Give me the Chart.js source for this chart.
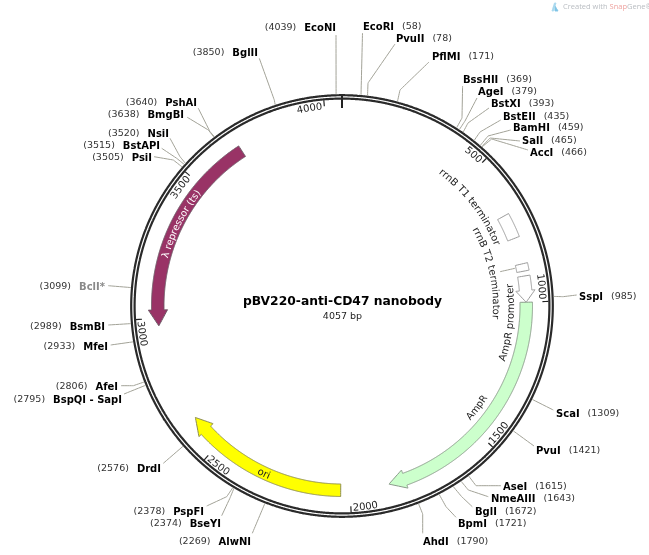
<!DOCTYPE html>
<html><head><meta charset="utf-8">
<style>html,body{margin:0;padding:0;background:#fff}canvas{display:block}</style>
<script src="https://cdn.jsdelivr.net/npm/chart.js@4/dist/chart.umd.min.js"></script>
</head><body><div style="width:649px;height:555px"><canvas id="c" width="649" height="555"></canvas></div>
<script>
// ---- data ----
const plasmidName = 'pBV220-anti-CD47 nanobody';
const plasmidLength = 4057;
const tickValues = [500,1000,1500,2000,2500,3000,3500,4000];
const siteNames = ['EcoRI','PvuII','PflMI','BssHII','AgeI','BstXI','BstEII','BamHI','SalI','AccI','SspI','ScaI','PvuI','AseI','NmeAIII','BglI','BpmI','AhdI','AlwNI','BseYI','PspFI','DrdI','BspQI - SapI','AfeI','MfeI','BsmBI','BclI*','PsiI','BstAPI','NsiI','BmgBI','PshAI','BglII','EcoNI'];
const sitePositions = [58,78,171,369,379,393,435,459,465,466,985,1309,1421,1615,1643,1672,1721,1790,2269,2374,2378,2576,2795,2806,2933,2989,3099,3505,3515,3520,3638,3640,3850,4039];
const arrowNames = ['λ repressor (ts)','AmpR','ori','AmpR promoter'];
const arrowTail = [3687,1001,2033,909];
const arrowHeadBase = [3029,1804,2565,960];
const arrowTip = [2973,1862,2623,1001];
const boxNames = ['rrnB T1 terminator','rrnB T2 terminator'];
const boxStart = [687,866];
const boxEnd = [773,892];
const promoterBoundary = 1070;

// ---- layout ----
const CX=342, CY=306;
const ringR=[210.8,207.4];
// [side, label x, label y, leader waypoints from the label towards the ring]
const siteLayout = [
['R',363,27,[[362.5,33]]],
['R',396,39,[[395,44],[368,83]]],
['R',432,57,[[429,62],[400,90]]],
['R',463,80,[[462.6,86],[462,118]]],
['R',478,92,[[477,98],[465,121]]],
['R',491,104,[[489,108],[468,123]]],
['R',503,117,[[500.7,120],[480,132]]],
['R',513,128,[[510.7,130],[488,136]]],
['R',522,141,[[520,141],[490,138]]],
['R',530,153,[[528,150],[491.7,139]]],
['R',579,297,[[576.7,295],[563,296.7]]],
['R',556,414,[[553.3,410]]],
['R',536,451,[[534,446]]],
['R',503,487,[[501,485.7],[476,485.7]]],
['R',491,499,[[488.3,496.7],[468.3,490]]],
['R',475,512,[[472.3,506.7],[461.7,496.7]]],
['R',458,524,[[456,517.3],[446,506.7]]],
['R',423,542,[[422.7,533.3],[422.7,514]]],
['L',251,542,[[252.3,533.3]]],
['L',221,524,[[221.7,515.7],[230,498]]],
['L',204,512,[[206.7,506],[226.7,496.7]]],
['L',161,469,[[163.3,463.3]]],
['L',122,400,[[124,394]]],
['L',118,387,[[121,385.7],[133.3,385.7]]],
['L',108,347,[[110.7,345]]],
['L',105,327,[[108.3,325]]],
['L',105,287,[[108.3,285.7]]],
['L',152,158,[[154,156.7],[173.3,160]]],
['L',160,146,[[161.7,148.3],[176.7,158.3]]],
['L',169,134,[[170,138.3],[180,156.7]]],
['L',184,115,[[187.3,117.3],[208.3,130]]],
['L',197,103,[[198.3,108.3],[210,131.7]]],
['L',258,53,[[259.3,58.3],[274.3,100]]],
['L',336,28,[[336,35]]]
];
const arrowStyle = [
  {fill:'#993366',stroke:'#6e5a66'},
  {fill:'#ccffcc',stroke:'#8a9a8a'},
  {fill:'#ffff00',stroke:'#8c8c50'},
  {fill:'#ffffff',stroke:'#999999'}
];
const SANS='"DejaVu Sans"';

function polar(bp,r){const t=bp/plasmidLength*2*Math.PI;return {x:CX+r*Math.sin(t),y:CY-r*Math.cos(t)};}
function arc(a,b,r){const n=Math.max(2,Math.ceil(Math.abs(b-a)/4));const o=[];for(let i=0;i<=n;i++)o.push(polar(a+(b-a)*i/n,r));return o;}
// a tiny tension keeps Chart.js off its pixel-snapping fast path, so curves stay smooth
function lineDs(data,color,width,extra){return Object.assign({type:'scatter',data,showLine:true,borderColor:color,borderWidth:width,pointRadius:0,fill:false,tension:0.00001},extra||{});}
function polyDs(pts,fill,stroke){return lineDs(pts.concat([pts[0]]),stroke,1,{fill:'shape',backgroundColor:fill,borderJoinStyle:'miter'});}

const datasets=[];
// leaders
siteNames.forEach((n,i)=>{
  const pts=siteLayout[i][3].map(p=>({x:p[0],y:p[1]}));
  pts.push(polar(sitePositions[i],212));
  datasets.push(lineDs(pts,'#a2a297',1));
});
datasets.push(lineDs([{x:500,y:271.7},{x:515,y:268.3}],'#a2a297',1));
// rings
ringR.forEach(r=>datasets.push(lineDs(arc(0,plasmidLength,r).concat([polar(0,r)]),'#2a2a2a',2.2)));
// ticks
tickValues.forEach(v=>datasets.push(lineDs([polar(v,206.5),polar(v,200.5)],'#222',1.2)));
datasets.push(lineDs([polar(0,211),polar(0,198)],'#222',2));
// arrows
arrowNames.forEach((n,i)=>{
  const rIn=178,rOut=190.5,hIn=174.5,hOut=193.7,rMid=184.2;
  const pts=[].concat(
    arc(arrowTail[i],arrowHeadBase[i],rOut),
    [polar(arrowHeadBase[i],hOut),polar(arrowTip[i],rMid),polar(arrowHeadBase[i],hIn)],
    arc(arrowHeadBase[i],arrowTail[i],rIn));
  datasets.push(polyDs(pts,arrowStyle[i].fill,arrowStyle[i].stroke));
});
// terminator boxes
boxNames.forEach((n,i)=>{
  const pts=[].concat(arc(boxStart[i],boxEnd[i],190.5),arc(boxEnd[i],boxStart[i],178));
  datasets.push(polyDs(pts,'#ffffff','#999999'));
});
datasets.push(lineDs([polar(promoterBoundary,178),polar(promoterBoundary,190.5)],'#333',1,{borderDash:[1,1]}));
// watermark icon
datasets.push(polyDs([{x:552,y:11},{x:554.5,y:3},{x:556,y:3},{x:553.5,y:11}],'#a8d8ee','#a8d8ee'));
datasets.push(polyDs([{x:555,y:6},{x:558,y:11},{x:555,y:11}],'#7fc4e6','#7fc4e6'));

function arcText(ctx,sc,text,centerBp,r,cw,font,color){
  ctx.save();ctx.font=font;ctx.fillStyle=color;ctx.textAlign='left';ctx.textBaseline='alphabetic';
  const total=ctx.measureText(text).width;
  const dir=cw?1:-1;
  const c0=centerBp/plasmidLength*2*Math.PI;
  for(let i=0;i<text.length;i++){
    const before=ctx.measureText(text.slice(0,i)).width;
    const w=ctx.measureText(text[i]).width;
    const t=c0+dir*((before+w/2-total/2)/r);
    const p=polar(t/(2*Math.PI)*plasmidLength,r);
    ctx.save();
    ctx.translate(sc.x.getPixelForValue(p.x),sc.y.getPixelForValue(p.y));
    ctx.rotate(cw?t:t+Math.PI);
    ctx.fillText(text[i],-w/2,0);
    ctx.restore();
  }
  ctx.restore();
}
function tickText(ctx,sc,v){
  const a=v/plasmidLength*360;
  const top=(a<90||a>270);
  const font='10px '+SANS;ctx.save();ctx.font=font;const w=ctx.measureText(String(v)).width;ctx.restore();
  const r=top?197.5:205;
  const offs=(w/2+2)/r/(2*Math.PI)*plasmidLength;
  // every tick label lies on the lower-position side of its tick
  arcText(ctx,sc,String(v),v-offs,r,top,font,'#222');
}
const textPlugin={id:'mapText',afterDatasetsDraw(chart){
  const ctx=chart.ctx,sc=chart.scales;
  const X=v=>sc.x.getPixelForValue(v),Y=v=>sc.y.getPixelForValue(v);
  ctx.save();ctx.textBaseline='middle';
  siteNames.forEach((n,i)=>{
    const L=siteLayout[i],num='('+sitePositions[i]+')';
    const boldF='bold 10px '+SANS,numF='9.5px '+SANS;
    const grey=n==='BclI*';
    ctx.font=boldF;const nw=ctx.measureText(n).width;
    ctx.font=numF;const w2=ctx.measureText(num).width;
    const gap=8;
    ctx.textAlign='left';
    if(L[0]==='R'){
      ctx.font=boldF;ctx.fillStyle='#000';ctx.fillText(n,X(L[1]),Y(L[2]));
      ctx.font=numF;ctx.fillStyle='#333';ctx.fillText(num,X(L[1])+nw+gap,Y(L[2]));
    }else{
      ctx.font=boldF;ctx.fillStyle=grey?'#8a8a8a':'#000';ctx.fillText(n,X(L[1])-nw,Y(L[2]));
      ctx.font=numF;ctx.fillStyle='#333';ctx.fillText(num,X(L[1])-nw-gap-w2,Y(L[2]));
    }
  });
  ctx.textAlign='center';ctx.fillStyle='#000';
  ctx.font='bold 12.3px '+SANS;ctx.fillText(plasmidName,X(342.5),Y(302));
  ctx.font='9.5px '+SANS;ctx.fillStyle='#222';ctx.fillText(plasmidLength+' bp',X(342.5),Y(317));
  ctx.textAlign='left';ctx.font='7.5px "Open Sans"';
  let x=563;[['Created with ','#b9bdc2'],['Snap','#efa3a0'],['Gene®','#b9bdc2']].forEach(s=>{ctx.fillStyle=s[1];ctx.fillText(s[0],X(x),Y(7));x+=ctx.measureText(s[0]).width;});
  ctx.restore();
  tickValues.forEach(v=>tickText(ctx,sc,v));
  const f='10px '+SANS;
  arcText(ctx,sc,boxNames[0],589,164,true,f,'#222');
  arcText(ctx,sc,boxNames[1],870,151,true,f,'#222');
  arcText(ctx,sc,arrowNames[3],1078,172,false,f,'#222');
  arcText(ctx,sc,arrowNames[1],1431,172,false,'9.6px '+SANS,'#222');
  arcText(ctx,sc,arrowNames[2],2310,188,false,f,'#222');
  arcText(ctx,sc,arrowNames[0],3347,180.5,true,'9.7px '+SANS,'#ffffff');
}};
new Chart(document.getElementById('c'),{
  type:'scatter',
  data:{datasets},
  options:{responsive:false,animation:false,devicePixelRatio:1,
    layout:{padding:0},
    plugins:{legend:{display:false},tooltip:{enabled:false},title:{display:false}},
    scales:{x:{type:'linear',min:0,max:649,display:false},y:{type:'linear',min:0,max:555,reverse:true,display:false}},
    elements:{line:{capBezierPoints:false}}
  },
  plugins:[textPlugin]
});
</script></body></html>
